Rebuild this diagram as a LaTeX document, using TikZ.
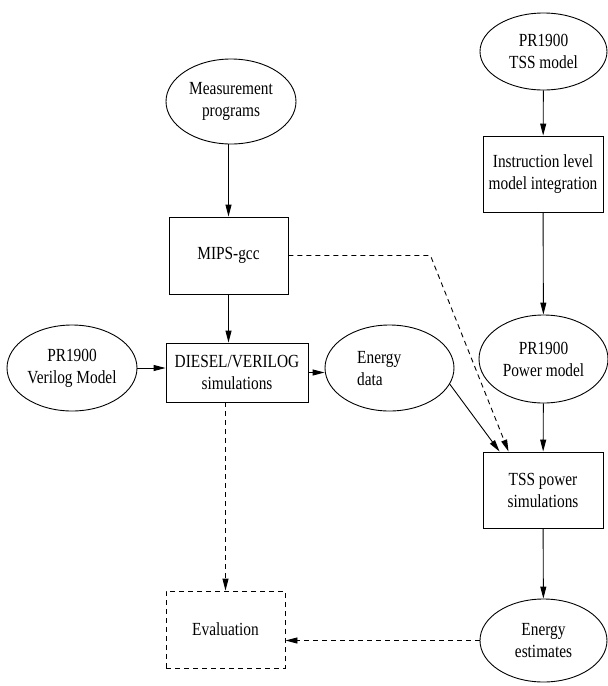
\documentclass[tikz,border=0pt]{standalone}
\usepackage{fontspec}
\setmainfont{Liberation Serif}[FakeStretch=0.83]
\usetikzlibrary{shapes.geometric,arrows.meta,calc}
\begin{document}
\begin{tikzpicture}[x=1pt,y=-1pt,
  every node/.style={font=\fontsize{18.5}{22}\selectfont, inner sep=0pt, align=center},
  ell/.style={draw, ellipse, line width=0.9pt},
  box/.style={draw, rectangle, line width=0.9pt},
  conn/.style={line width=0.9pt, -{Triangle[length=12pt,width=6pt]}},
  dconn/.style={conn, dash pattern=on 5pt off 4pt},
]
\useasboundingbox (0,0) rectangle (608,686);
\node[ell, minimum width=127pt, minimum height=77pt] (tss) at (543.5,51.5) {PR1900\\TSS model};
\node[box, minimum width=120pt, minimum height=76pt] (inst) at (543,174) {Instruction level\\model integration};
\node[ell, minimum width=129pt, minimum height=88pt] (pow) at (543.5,359) {PR1900\\Power model};
\node[box, minimum width=120pt, minimum height=76pt] (sim) at (543,490) {TSS power\\simulations};
\node[ell, minimum width=127pt, minimum height=83pt] (est) at (543.5,640.5) {Energy\\estimates};
\node[ell, minimum width=130pt, minimum height=85pt] (meas) at (231,101.5) {Measurement\\programs};
\node[box, minimum width=119pt, minimum height=77pt] (mips) at (228.5,255.5) {MIPS-gcc};
\node[box, minimum width=142pt, minimum height=59pt] (diesel) at (237,372.5) {DIESEL/VERILOG\\simulations};
\node[ell, minimum width=130pt, minimum height=86pt] (ver) at (72,368) {PR1900\\Verilog Model};
\node[ell, minimum width=129pt, minimum height=86pt] (edata) at (389.5,368) {};
\node[align=left, anchor=west] (edatat) at (357,369) {Energy\\data};
\node[box, dash pattern=on 5pt off 4pt, minimum width=119pt, minimum height=77pt] (eval) at (225.5,629.5) {Evaluation};

\draw[conn] (tss) -- (inst);
\draw[conn] (inst) -- (pow);
\draw[conn] (pow) -- (sim);
\draw[conn] (sim) -- (est);
\draw[conn] (mips.north |- meas.south) -- (mips.north);
\draw[conn] (mips.south) -- (mips.south |- diesel.north);
\draw[conn] (ver.east) -- (ver.east -| diesel.west);
\draw[conn] (diesel.east) -- (diesel.east -| edata.west);
\draw[conn] (edata.-15) -- ([xshift=17pt]sim.north west);
\draw[dconn] (mips.east) -- ++(142,0) -- ([xshift=26pt]sim.north west);
\draw[dconn] (diesel.south -| eval.north) -- (eval.north);
\draw[dconn] (est.west) -- (est.west -| eval.east);
\end{tikzpicture}
\end{document}
